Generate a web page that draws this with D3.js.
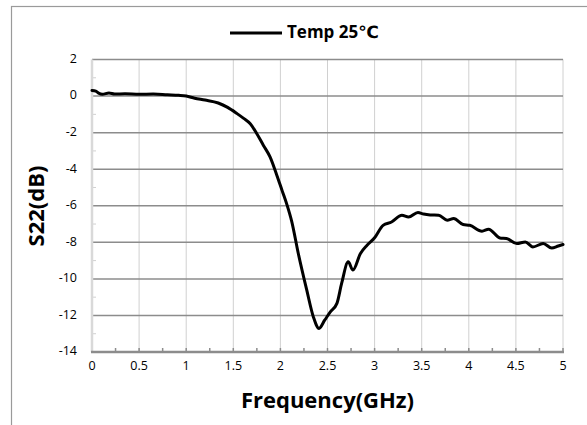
<!DOCTYPE html>
<html>
<head>
<meta charset="utf-8">
<script src="https://cdn.jsdelivr.net/npm/d3@7"></script>
<style>
  html, body { margin: 0; padding: 0; background: #fff; }
  svg text { font-family: "Open Sans", "DejaVu Sans", sans-serif; fill: #000; }
</style>
</head>
<body>
<div id="chart"></div>
<script>
//Data
const freq = [0.00, 0.04, 0.07, 0.11, 0.18, 0.24, 0.35, 0.50, 0.65, 0.80, 0.92, 1.00, 1.09, 1.20, 1.34,
  1.44, 1.54, 1.61, 1.68, 1.75, 1.82, 1.89, 1.96, 2.02, 2.07, 2.12, 2.19, 2.28, 2.35, 2.41, 2.47,
  2.53, 2.60, 2.65, 2.72, 2.77, 2.85, 2.92, 3.00, 3.09, 3.18, 3.29, 3.36, 3.46, 3.52, 3.59, 3.68,
  3.77, 3.84, 3.94, 4.01, 4.14, 4.21, 4.33, 4.40, 4.51, 4.60, 4.68, 4.79, 4.88, 4.95, 5.00];
const s22 = [0.31, 0.27, 0.16, 0.10, 0.17, 0.11, 0.12, 0.10, 0.11, 0.07, 0.04, 0.00, -0.12, -0.22, -0.38,
  -0.62, -0.96, -1.22, -1.51, -2.06, -2.70, -3.33, -4.30, -5.20, -5.95, -6.85, -8.61, -10.62, -12.08, -12.71, -12.26,
  -11.80, -11.34, -10.25, -9.07, -9.52, -8.61, -8.16, -7.75, -7.07, -6.89, -6.52, -6.62, -6.37, -6.45, -6.50, -6.52,
  -6.79, -6.70, -7.03, -7.07, -7.39, -7.28, -7.76, -7.79, -8.07, -7.98, -8.25, -8.07, -8.31, -8.20, -8.12];
const xTicks = [0, 0.5, 1, 1.5, 2, 2.5, 3, 3.5, 4, 4.5, 5];
const yTicks = [2, 0, -2, -4, -6, -8, -10, -12, -14];
const seriesName = 'Temp 25℃';

//Layout
const W = 587, H = 425;
const margin = { top: 59.5, right: 24, bottom: 73, left: 92 };
const innerW = W - margin.left - margin.right;
const innerH = H - margin.top - margin.bottom;

const svg = d3.select('#chart').append('svg').attr('width', W).attr('height', H);

// outer chart frame (right/bottom edges fall outside the picture)
svg.append('rect')
  .attr('x', 11.5).attr('y', 6.5).attr('width', W + 10).attr('height', H + 10)
  .attr('fill', 'none').attr('stroke', '#9a9a9a').attr('stroke-width', 1.2);

const x = d3.scaleLinear().domain([0, 5]).range([0, innerW]);
const y = d3.scaleLinear().domain([-14, 2]).range([innerH, 0]);

const g = svg.append('g').attr('transform', `translate(${margin.left},${margin.top})`);

// vertical grid
g.append('g').selectAll('line').data(xTicks.slice(1)).join('line')
  .attr('x1', d => x(d)).attr('x2', d => x(d))
  .attr('y1', 0).attr('y2', innerH)
  .attr('stroke', '#d0d0d0').attr('stroke-width', 1);

// horizontal grid
g.append('g').selectAll('line').data(yTicks.slice(0, -1)).join('line')
  .attr('x1', 0).attr('x2', innerW)
  .attr('y1', d => y(d)).attr('y2', d => y(d))
  .attr('stroke', '#8c8c8c').attr('stroke-width', 1.5);

// minor ticks (inside)
g.append('g').selectAll('line').data(d3.range(-13, 2, 2)).join('line')
  .attr('x1', 0).attr('x2', 4)
  .attr('y1', d => y(d)).attr('y2', d => y(d))
  .attr('stroke', '#d0d0d0').attr('stroke-width', 1);
g.append('g').selectAll('line').data(d3.range(0, 5.01, 0.25)).join('line')
  .attr('x1', d => x(d)).attr('x2', d => x(d))
  .attr('y1', innerH - 4).attr('y2', innerH)
  .attr('stroke', '#8c8c8c').attr('stroke-width', 1.5);

// axes lines
g.append('line').attr('x1', 0).attr('x2', 0).attr('y1', 0).attr('y2', innerH)
  .attr('stroke', '#d9d9d9').attr('stroke-width', 2.5);
g.append('line').attr('x1', -1).attr('x2', innerW + 1).attr('y1', innerH).attr('y2', innerH)
  .attr('stroke', '#8c8c8c').attr('stroke-width', 2.5);

// tick labels
g.append('g').selectAll('text').data(xTicks).join('text')
  .attr('x', d => x(d)).attr('y', innerH + 15)
  .attr('text-anchor', 'middle').attr('dominant-baseline', 'middle')
  .attr('font-size', 12.5).text(d => d);
g.append('g').selectAll('text').data(yTicks).join('text')
  .attr('x', -15).attr('y', d => y(d))
  .attr('text-anchor', 'end').attr('dominant-baseline', 'middle')
  .attr('font-size', 12.5).text(d => d);

// axis titles
svg.append('text')
  .attr('x', margin.left + innerW / 2).attr('y', 402)
  .attr('text-anchor', 'middle').attr('dominant-baseline', 'middle')
  .attr('font-size', 22).attr('font-weight', 700).text('Frequency(GHz)');
svg.append('text')
  .attr('transform', `translate(38,206) rotate(-90)`)
  .attr('text-anchor', 'middle').attr('dominant-baseline', 'middle')
  .attr('font-size', 22).attr('font-weight', 700).text('S22(dB)');

// series line
const pts = freq.map((f, i) => ({ f, v: s22[i] }));
const line = d3.line().x(d => x(d.f)).y(d => y(d.v)).curve(d3.curveMonotoneX);
g.append('path').datum(pts)
  .attr('d', line)
  .attr('fill', 'none').attr('stroke', '#000').attr('stroke-width', 3)
  .attr('stroke-linejoin', 'round').attr('stroke-linecap', 'round');

// legend
const leg = svg.append('g');
leg.append('line').attr('x1', 230).attr('x2', 282).attr('y1', 33).attr('y2', 33)
  .attr('stroke', '#000').attr('stroke-width', 3);
leg.append('text').attr('x', 287).attr('y', 33)
  .attr('dominant-baseline', 'middle')
  .attr('font-size', 17).attr('font-weight', 700).text(seriesName);
</script>
</body>
</html>
